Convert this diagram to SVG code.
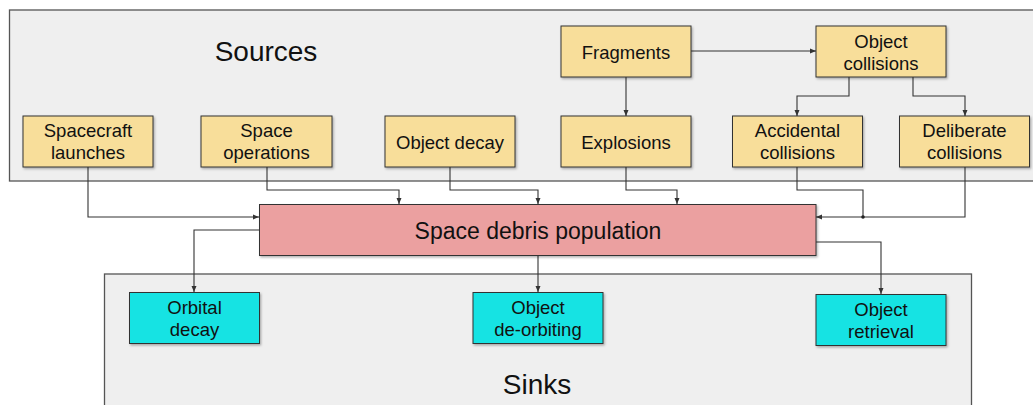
<svg xmlns="http://www.w3.org/2000/svg" width="1033" height="405" viewBox="0 0 1033 405">
<style>
.container{fill:#efefef;stroke:#555;stroke-width:1.3}
.src{fill:#f8de9a;stroke:#333;stroke-width:1;filter:url(#sh)}
.core{fill:#eba0a0;stroke:#333;stroke-width:1;filter:url(#sh)}
.sink{fill:#12e3e3;stroke:#333;stroke-width:1;filter:url(#sh)}
text{font-family:"Liberation Sans",Arial,Helvetica,sans-serif;fill:#111;text-anchor:middle}
.t{font-size:18.5px}
.big{font-size:28px}
.mid{font-size:23px}
.c{fill:none;stroke:#333;stroke-width:1.1;marker-end:url(#arr)}
</style>
<defs>
<filter id="sh" x="-10%" y="-10%" width="120%" height="130%">
<feDropShadow dx="1.2" dy="1.5" stdDeviation="0.8" flood-color="#000" flood-opacity="0.3"/>
</filter>
<marker id="arr" markerUnits="userSpaceOnUse" markerWidth="6" markerHeight="6" refX="6" refY="3" orient="auto">
<path d="M0,0.5 L6,3 L0,5.5 z" fill="#333"/>
</marker>
</defs>
<g id="sources">
<rect class="container" x="9.5" y="10" width="1040" height="171"/>
<text class="big" x="266" y="61">Sources</text>
</g>
<g id="sinks">
<rect class="container" x="104.5" y="274" width="867" height="150"/>
<text class="big" x="537" y="394">Sinks</text>
</g>
<g id="connectors">
<path class="c" d="M691,51 H816"/>
<path class="c" d="M626,77 V116"/>
<path class="c" d="M849,77 V96 H797 V116"/>
<path class="c" d="M913,77 V96 H965 V116"/>
<path class="c" d="M88,167 V217 H259"/>
<path class="c" d="M267,167 V190 H399 V204"/>
<path class="c" d="M450,167 V190 H538 V204"/>
<path class="c" d="M626,167 V190 H677 V204"/>
<path class="c" d="M797,167 V190 H863 V217 H816"/>
<path class="c" d="M965,167 V217 H863" style="marker-end:none"/>
<circle cx="863" cy="217" r="1.8" fill="#222"/>
<path class="c" d="M259,230 H194 V292"/>
<path class="c" d="M538,255 V292"/>
<path class="c" d="M816,242 H881 V294"/>
</g>
<g id="spacecraft-launches">
<rect class="src" x="23" y="116" width="130" height="51"/>
<text class="t" x="88" y="137">Spacecraft</text>
<text class="t" x="88" y="159">launches</text>
</g>
<g id="space-operations">
<rect class="src" x="201" y="116" width="131" height="51"/>
<text class="t" x="266.5" y="137">Space</text>
<text class="t" x="266.5" y="159">operations</text>
</g>
<g id="object-decay">
<rect class="src" x="385" y="116" width="130" height="51"/>
<text class="t" x="450" y="148.5">Object decay</text>
</g>
<g id="fragments">
<rect class="src" x="561" y="26" width="130" height="51"/>
<text class="t" x="626" y="58.5">Fragments</text>
</g>
<g id="explosions">
<rect class="src" x="561" y="116" width="130" height="51"/>
<text class="t" x="626" y="148.5">Explosions</text>
</g>
<g id="object-collisions">
<rect class="src" x="816" y="26" width="130" height="51"/>
<text class="t" x="881" y="48">Object</text>
<text class="t" x="881" y="70">collisions</text>
</g>
<g id="accidental-collisions">
<rect class="src" x="732.5" y="116" width="130" height="51"/>
<text class="t" x="797.5" y="137">Accidental</text>
<text class="t" x="797.5" y="159">collisions</text>
</g>
<g id="deliberate-collisions">
<rect class="src" x="899.5" y="116" width="130" height="51"/>
<text class="t" x="964.5" y="137">Deliberate</text>
<text class="t" x="964.5" y="159">collisions</text>
</g>
<g id="space-debris-population">
<rect class="core" x="259.5" y="204.5" width="556.5" height="51"/>
<text class="mid" x="538" y="239">Space debris population</text>
</g>
<g id="orbital-decay">
<rect class="sink" x="129.5" y="292.5" width="130" height="51"/>
<text class="t" x="194.5" y="314">Orbital</text>
<text class="t" x="194.5" y="336">decay</text>
</g>
<g id="object-de-orbiting">
<rect class="sink" x="473" y="292.5" width="130" height="51"/>
<text class="t" x="538" y="314">Object</text>
<text class="t" x="538" y="336">de-orbiting</text>
</g>
<g id="object-retrieval">
<rect class="sink" x="816" y="294.5" width="130" height="51"/>
<text class="t" x="881" y="316">Object</text>
<text class="t" x="881" y="338">retrieval</text>
</g>
</svg>
